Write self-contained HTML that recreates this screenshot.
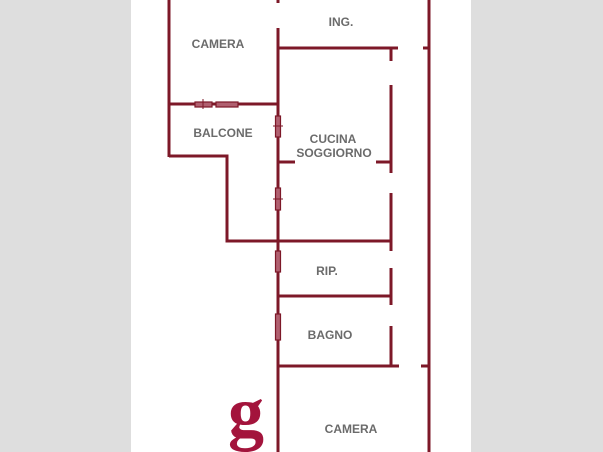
<!DOCTYPE html>
<html><head><meta charset="utf-8"><style>
html,body{margin:0;padding:0;background:#fff;}
svg{display:block}
text{font-family:"Liberation Sans",sans-serif;font-weight:bold;font-size:12px;fill:#6b6b6b;text-anchor:middle}
</style></head><body>
<svg width="603" height="452" viewBox="0 0 603 452" xmlns="http://www.w3.org/2000/svg">
<rect x="0" y="0" width="131" height="452" fill="#dedede"/>
<rect x="471" y="0" width="132" height="452" fill="#dedede"/>
<g stroke="#7d1828" stroke-width="3" fill="none">
<line x1="169" y1="0" x2="169" y2="157"/>
<line x1="169" y1="104" x2="278" y2="104"/>
<polyline points="169,156 227,156 227,241 391,241"/>
<line x1="278" y1="0" x2="278" y2="3"/>
<line x1="278" y1="28" x2="278" y2="452"/>
<line x1="278" y1="48" x2="398" y2="48"/>
<line x1="423" y1="48" x2="430" y2="48"/>
<line x1="429" y1="0" x2="429" y2="452"/>
<line x1="391" y1="48" x2="391" y2="61"/>
<line x1="391" y1="85" x2="391" y2="173"/>
<line x1="391" y1="193" x2="391" y2="251"/>
<line x1="391" y1="268" x2="391" y2="305"/>
<line x1="391" y1="326" x2="391" y2="366"/>
<line x1="278" y1="162" x2="295" y2="162"/>
<line x1="376" y1="162" x2="391" y2="162"/>
<line x1="278" y1="296" x2="391" y2="296"/>
<line x1="278" y1="366" x2="399" y2="366"/>
<line x1="421" y1="366" x2="430" y2="366"/>
</g>
<g stroke="#7d1828" stroke-width="1.2" fill="#b06070">
<rect x="195" y="102" width="17" height="5"/>
<rect x="216" y="102" width="22" height="5"/>
<rect x="275.5" y="116" width="5" height="21"/>
<rect x="275.5" y="188" width="5" height="22"/>
<rect x="275.5" y="251" width="5" height="21"/>
<rect x="275.5" y="314" width="5" height="26"/>
</g>
<g stroke="#7d1828" stroke-width="1">
<line x1="203" y1="99" x2="203" y2="109"/>
<line x1="273" y1="126" x2="283" y2="126"/>
<line x1="273" y1="199" x2="283" y2="199"/>
</g>
<text x="218" y="48">CAMERA</text>
<text x="341" y="26">ING.</text>
<text x="223" y="137">BALCONE</text>
<text x="333" y="143">CUCINA</text>
<text x="334" y="157">SOGGIORNO</text>
<text x="327" y="275">RIP.</text>
<text x="330" y="339">BAGNO</text>
<text x="351" y="433">CAMERA</text>
<text x="246" y="436" style="font-family:'Liberation Serif',serif;font-size:72px;fill:#a3143c;font-weight:bold">g</text>
</svg>
</body></html>
